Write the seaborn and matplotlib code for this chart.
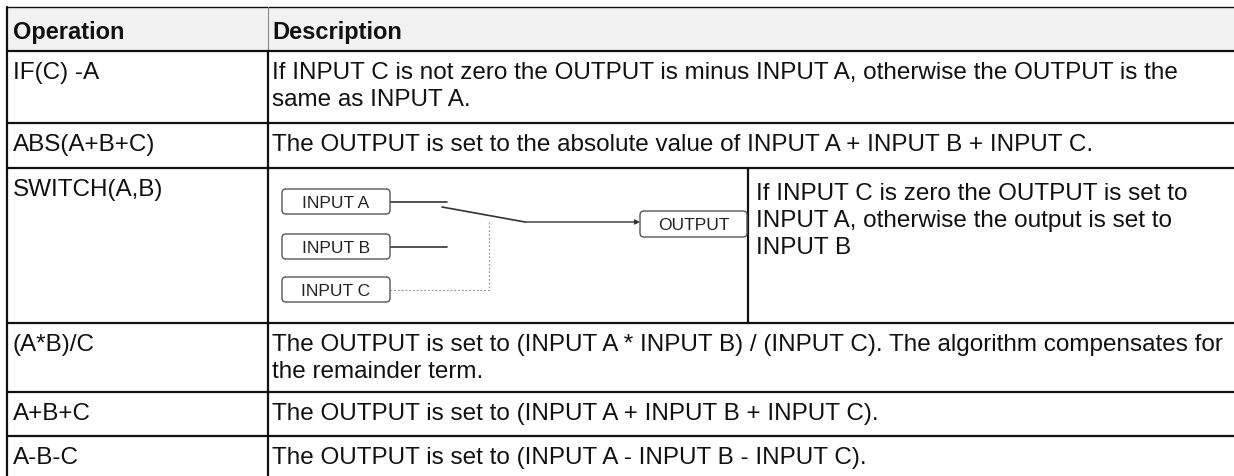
# %% Packages
import matplotlib.pyplot as plt
import seaborn as sns
from matplotlib.patches import FancyBboxPatch, Rectangle

# %% Table content
header = ["Operation", "Description"]
operations = ["IF(C) -A", "ABS(A+B+C)", "SWITCH(A,B)", "(A*B)/C", "A+B+C", "A-B-C"]
descriptions = [
    ["If INPUT C is not zero the OUTPUT is minus INPUT A, otherwise the OUTPUT is the",
     "same as INPUT A."],
    ["The OUTPUT is set to the absolute value of INPUT A + INPUT B + INPUT C."],
    [],
    ["The OUTPUT is set to (INPUT A * INPUT B) / (INPUT C). The algorithm compensates for",
     "the remainder term."],
    ["The OUTPUT is set to (INPUT A + INPUT B + INPUT C)."],
    ["The OUTPUT is set to (INPUT A - INPUT B - INPUT C)."],
]
switch_text = ["If INPUT C is zero the OUTPUT is set to",
               "INPUT A, otherwise the output is set to",
               "INPUT B"]
switch_inputs = ["INPUT A", "INPUT B", "INPUT C"]
switch_output = "OUTPUT"

# %% Layout (pixel coordinates, y grows downward)
W, H = 1234, 477
x_left, x_col, x_split = 7, 268, 748
y_top, y_head = 8, 52
row_bottoms = [124, 169, 324, 393, 437, 485]
line_step = 27
fs = 17.5

sns.set_style("white")
plt.rcParams["font.family"] = ["Liberation Sans", "DejaVu Sans"]
ink = "#111111"

fig, ax = plt.subplots(figsize=(W / 100, H / 100), dpi=100)
fig.subplots_adjust(left=0, right=1, bottom=0, top=1)
ax.set_xlim(0, W)
ax.set_ylim(H, 0)
ax.axis("off")

# header band
ax.add_patch(Rectangle((x_left, y_top), W - x_left, y_head - y_top,
                       facecolor="#f2f2f2", edgecolor="none", zorder=0))
ax.plot([x_left, W], [y_top, y_top], color=ink, lw=1.0)
ax.plot([x_col, x_col], [y_top, y_head], color="#8a8a8a", lw=0.8)
ax.text(x_left + 6, y_top + 30.5, header[0], fontsize=17, fontweight="bold",
        color=ink, va="baseline")
ax.text(x_col + 4, y_top + 30.5, header[1], fontsize=17, fontweight="bold",
        color=ink, va="baseline")

# grid
ax.plot([x_left, x_left], [y_top, H], color=ink, lw=1.6)
ax.plot([x_col, x_col], [y_head, H], color=ink, lw=1.6)
for y in [y_head] + row_bottoms[:-1]:
    ax.plot([x_left, W], [y, y], color=ink, lw=1.6)

# rows
row_tops = [y_head] + row_bottoms[:-1]
for top, op, lines in zip(row_tops, operations, descriptions):
    base = top + 27
    ax.text(x_left + 6, base, op, fontsize=fs, color=ink, va="baseline")
    for k, line in enumerate(lines):
        ax.text(x_col + 4, base + k * line_step, line, fontsize=fs,
                color=ink, va="baseline")

# %% SWITCH diagram
s_top, s_bot = row_tops[2], row_bottoms[2]
ax.plot([x_split, x_split], [s_top, s_bot], color=ink, lw=1.6)
for k, line in enumerate(switch_text):
    ax.text(x_split + 8, s_top + 31 + k * line_step, line, fontsize=fs,
            color=ink, va="baseline")

box_kw = dict(boxstyle="round,pad=0,rounding_size=4", facecolor="white",
              edgecolor="#555555", lw=1.0, zorder=3)
in_x0, in_w, in_h = 282, 108, 25
in_y0 = [190, 235, 278]
for y0, label in zip(in_y0, switch_inputs):
    ax.add_patch(FancyBboxPatch((in_x0, y0), in_w, in_h, **box_kw))
    ax.text(in_x0 + in_w / 2, y0 + in_h / 2 + 1, label, fontsize=12.5,
            color="#222222", ha="center", va="center", zorder=4)
out_x0, out_y0, out_w, out_h = 640, 212, 107, 26
ax.add_patch(FancyBboxPatch((out_x0, out_y0), out_w, out_h, **box_kw))
ax.text(out_x0 + out_w / 2, out_y0 + out_h / 2 + 1, switch_output,
        fontsize=12.5, color="#222222", ha="center", va="center", zorder=4)

wire = "#333333"
ya, yb, yc = [y0 + in_h / 2 for y0 in in_y0]
ax.plot([in_x0 + in_w, 447], [ya, ya], color=wire, lw=1.2)
ax.plot([in_x0 + in_w, 447], [yb, yb], color=wire, lw=1.2)
ax.plot([442, 525], [208, 223], color=wire, lw=1.2)
ax.annotate("", xy=(out_x0, 223), xytext=(525, 223),
            arrowprops=dict(arrowstyle="-|>", color=wire, lw=1.0,
                            mutation_scale=7, shrinkA=0, shrinkB=0))
ax.plot([in_x0 + in_w, 489, 489], [yc, yc, 222], color="#9a9a9a",
        lw=0.9, ls=(0, (1.5, 1.5)))

fig.savefig("out.png", dpi=100)
